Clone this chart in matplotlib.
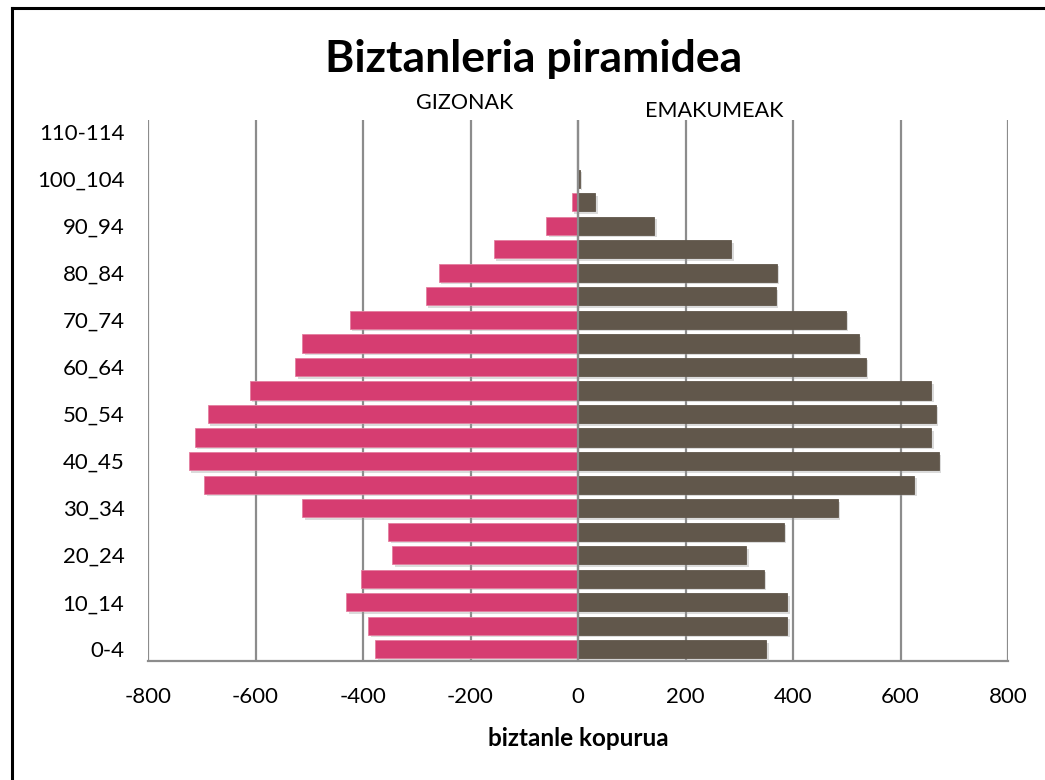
import matplotlib
matplotlib.use("Agg")
import matplotlib.pyplot as plt
import matplotlib.patheffects as pe
from matplotlib.lines import Line2D

plt.rcParams['font.family'] = ['Lato', 'DejaVu Sans']

age_groups = ["0-4", "5_9", "10_14", "15_19", "20_24", "25_29", "30_34", "35_39",
              "40_45", "45_49", "50_54", "55_59", "60_64", "65_69", "70_74", "75_79",
              "80_84", "85_89", "90_94", "95_99", "100_104", "105_109", "110-114"]
men = [-377, -390, -431, -403, -346, -353, -513, -695, -724, -713, -689, -611,
       -526, -513, -425, -283, -259, -157, -59, -12, 0, 0, 0]
women = [350, 389, 389, 346, 313, 383, 483, 626, 671, 657, 666, 657,
         535, 522, 498, 368, 370, 285, 142, 32, 3, 0, 0]
x_ticks = [-800, -600, -400, -200, 0, 200, 400, 600, 800]

pink = "#D63D71"
brown = "#61574B"
grid_c = "#8C8C8C"

W, H = 1045, 780
fig = plt.figure(figsize=(W / 100, H / 100), dpi=100)
ax = fig.add_axes([148 / W, (H - 661) / H, 860 / W, 541 / H])

y = list(range(len(age_groups)))
shadow = [pe.SimplePatchShadow(offset=(1.8, -1.8), shadow_rgbFace="#9A9A9A", alpha=0.35), pe.Normal()]
b1 = ax.barh(y, men, height=0.77, color=pink, edgecolor="#E37FA0", linewidth=0.6, zorder=3)
b2 = ax.barh(y, women, height=0.77, color=brown, edgecolor="#61574B", linewidth=0.6, zorder=3)
for b in list(b1) + list(b2):
    b.set_path_effects(shadow)

ax.set_xlim(-800, 800)
ax.set_ylim(-0.5, len(age_groups) - 0.5)
ax.set_xticks(x_ticks)
ax.set_xticklabels([str(v) for v in x_ticks])
ax.set_yticks(y[::2])
ax.set_yticklabels(age_groups[::2])
ax.tick_params(axis="both", length=0, labelsize=16, colors="black")
ax.tick_params(axis="x", pad=19)
ax.tick_params(axis="y", pad=17)

ax.grid(axis="x", color=grid_c, linewidth=1.6, zorder=0)
ax.set_axisbelow(True)
ax.axvline(0, color=grid_c, linewidth=1.6, zorder=5)
for s in ["top", "right", "left"]:
    ax.spines[s].set_visible(False)
ax.spines["bottom"].set_color(grid_c)
ax.spines["bottom"].set_linewidth(1.6)

ax.set_xlabel("biztanle kopurua", fontsize=17.5, fontweight="bold", labelpad=14)

fig.text(534 / W, 1 - 59 / H, "Biztanleria piramidea", ha="center", va="center",
         fontsize=32, fontweight="bold")
fig.text(465 / W, 1 - 103 / H, "GIZONAK", ha="center", va="center", fontsize=15.5)
fig.text(714 / W, 1 - 111 / H, "EMAKUMEAK", ha="center", va="center", fontsize=15.5)

fig.add_artist(Line2D([11.5 / W, 11.5 / W], [0, 1 - 7.5 / H], color="black", linewidth=2.2,
                      transform=fig.transFigure))
fig.add_artist(Line2D([11.5 / W, 1], [1 - 7.5 / H, 1 - 7.5 / H], color="black", linewidth=2.2,
                      transform=fig.transFigure))

fig.savefig("out.png", dpi=100, facecolor="white")
